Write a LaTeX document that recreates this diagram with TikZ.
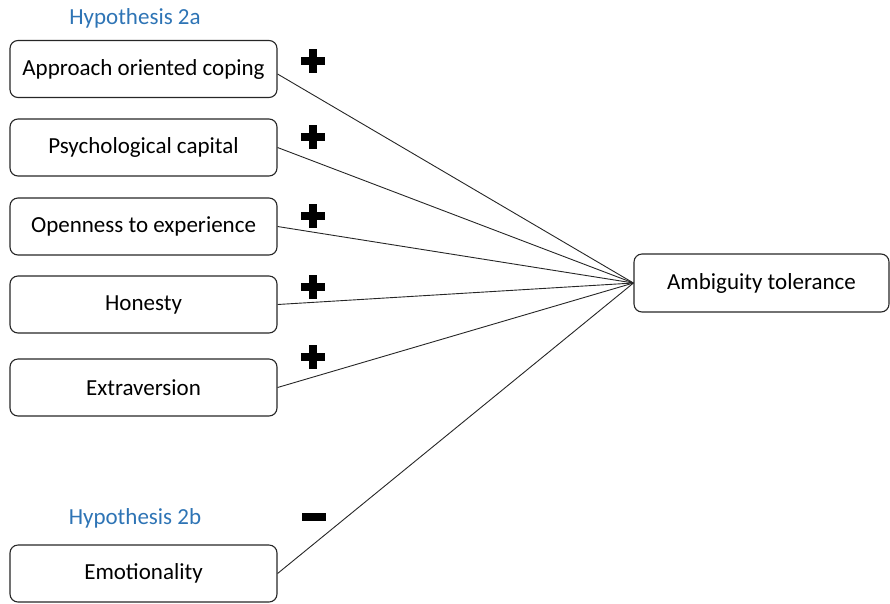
\documentclass[tikz,border=0pt]{standalone}
\usepackage{fontspec}
\setmainfont{Carlito}
\usetikzlibrary{calc}
\definecolor{hypblue}{RGB}{46,116,181}
\tikzset{
  varbox/.style={draw=black!85, line width=1.1pt, rounded corners=8pt, minimum width=267pt, minimum height=57pt, font=\fontsize{23}{27}\selectfont, inner sep=0pt},
  hyplabel/.style={text=hypblue, font=\fontsize{23}{27}\selectfont, inner sep=0pt},
  link/.style={draw=black!85, line width=0.9pt},
  signbar/.style={fill=black}
}
\begin{document}
\begin{tikzpicture}[x=1pt,y=-1pt]
\useasboundingbox (0,0) rectangle (890,603);
\node[hyplabel] (h2a) at (135,18) {Hypothesis 2a};
\node[hyplabel] (h2b) at (135,518) {Hypothesis 2b};
\node[varbox] (a1) at (143.5,69) {Approach oriented coping};
\node[varbox] (a2) at (143.5,147.5) {Psychological capital};
\node[varbox] (a3) at (143.5,226.5) {Openness to experience};
\node[varbox] (a4) at (143.5,304.5) {Honesty};
\node[varbox] (a5) at (143.5,387.5) {Extraversion};
\node[varbox] (a6) at (143.5,573.5) {Emotionality};
\node[varbox, minimum width=255pt, minimum height=58pt] (t) at (761.5,283) {Ambiguity tolerance};
\draw[link] ($(a1.east)+(0,5)$) -- (t.west);
\foreach \n in {a2,a3,a4,a5,a6} \draw[link] (\n.east) -- (t.west);
\foreach \y in {61,137,216,287,357} {
  \fill[signbar] (301,\y-4) rectangle (325,\y+4);
  \fill[signbar] (309,\y-12) rectangle (317,\y+12);
}
\fill[signbar] (302,513) rectangle (326,521);
\end{tikzpicture}
\end{document}
